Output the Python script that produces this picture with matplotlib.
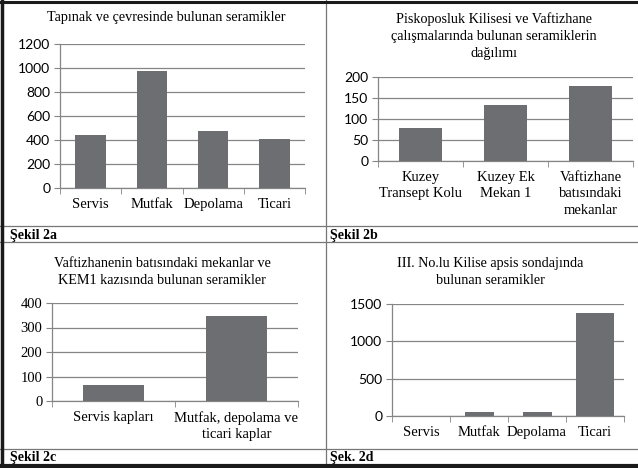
import matplotlib
matplotlib.use("Agg")
import matplotlib.pyplot as plt
from matplotlib.lines import Line2D

W, H = 638, 468

# ---- data ----
a_title = "Tapınak ve çevresinde bulunan seramikler"
a_cats = ["Servis", "Mutfak", "Depolama", "Ticari"]
a_vals = [440, 975, 475, 410]
a_ticks = [0, 200, 400, 600, 800, 1000, 1200]

b_title = "Piskoposluk Kilisesi ve Vaftizhane\nçalışmalarında bulunan seramiklerin\ndağılımı"
b_cats = ["Kuzey\nTransept Kolu", "Kuzey Ek\nMekan 1", "Vaftizhane\nbatısındaki\nmekanlar"]
b_vals = [78, 133, 179]
b_ticks = [0, 50, 100, 150, 200]

c_title = "Vaftizhanenin batısındaki mekanlar ve\nKEM1 kazısında bulunan seramikler"
c_cats = ["Servis kapları", "Mutfak, depolama ve\nticari kaplar"]
c_vals = [65, 346]
c_ticks = [0, 100, 200, 300, 400]

d_title = "III. No.lu Kilise apsis sondajında\nbulunan seramikler"
d_cats = ["Servis", "Mutfak", "Depolama", "Ticari"]
d_vals = [5, 50, 52, 1380]
d_ticks = [0, 500, 1000, 1500]

captions = ["Şekil 2a", "Şekil 2b", "Şekil 2c", "Şek. 2d"]

SERIF = "Liberation Serif"
SANS = "Lato"
BAR = "#6d6e71"
GRID = "#858585"

fig = plt.figure(figsize=(W / 100, H / 100), dpi=100)
fig.patch.set_facecolor("white")


def px_axes(x0, y0, x1, y1):
    return fig.add_axes([x0 / W, 1 - y1 / H, (x1 - x0) / W, (y1 - y0) / H])


def panel(box, cats, vals, ticks, ytick_font, widths=0.5, yfs=10):
    ax = px_axes(*box)
    x = list(range(len(cats)))
    ax.bar(x, vals, width=widths, color=BAR, zorder=3)
    ax.set_xlim(-0.5, len(cats) - 0.5)
    ax.set_ylim(ticks[0], ticks[-1])
    ax.set_yticks(ticks)
    ax.set_yticklabels([str(t) for t in ticks], fontfamily=ytick_font, fontsize=yfs)
    ax.yaxis.grid(True, color=GRID, linewidth=0.9, zorder=0)
    ax.set_axisbelow(True)
    for s in ["top", "right"]:
        ax.spines[s].set_visible(False)
    for s in ["left", "bottom"]:
        ax.spines[s].set_color(GRID)
        ax.spines[s].set_linewidth(0.9)
    ax.tick_params(axis="y", length=4, color=GRID, pad=3)
    ax.set_xticks(x)
    ax.set_xticklabels(cats, fontfamily=SERIF, fontsize=10.5, linespacing=1.35)
    ax.tick_params(axis="x", length=0, pad=7)
    ax.set_xticks([i - 0.5 for i in range(len(cats) + 1)], minor=True)
    ax.tick_params(axis="x", which="minor", length=4, color=GRID)
    return ax


panel((60, 44, 305, 188), a_cats, a_vals, a_ticks, SANS)
panel((378, 77, 633, 161), b_cats, b_vals, b_ticks, SANS)
panel((52, 303, 298, 401), c_cats, c_vals, c_ticks, SERIF, yfs=10.5)
panel((392, 304, 624, 416), d_cats, d_vals, d_ticks, SANS, widths=[0.5, 0.5, 0.5, 0.66])


def ftext(x, y, s, **kw):
    fig.text(x / W, 1 - y / H, s, **kw)


TFS = 10.2
ftext(166, 18, a_title, ha="center", va="center", fontfamily=SERIF, fontsize=TFS)
ftext(494, 36, b_title, ha="center", va="center", fontfamily=SERIF, fontsize=TFS, linespacing=1.38)
ftext(162, 272, c_title, ha="center", va="center", fontfamily=SERIF, fontsize=TFS, linespacing=1.42)
ftext(490, 272, d_title, ha="center", va="center", fontfamily=SERIF, fontsize=TFS, linespacing=1.38)

cap_pos = [(10, 236), (330, 236), (10, 457), (330, 457)]
for (cx, cy), cap in zip(cap_pos, captions):
    ftext(cx, cy, cap, ha="left", va="center", fontfamily=SERIF, fontsize=10, fontweight="bold")


def hline(y, x0, x1, color="#777777", lw=0.9):
    fig.add_artist(Line2D([x0 / W, x1 / W], [1 - y / H, 1 - y / H], color=color, linewidth=lw))


def vline(x, y0, y1, color="#777777", lw=0.9):
    fig.add_artist(Line2D([x / W, x / W], [1 - y0 / H, 1 - y1 / H], color=color, linewidth=lw))


hline(226, 0, W)
hline(242, 0, W)
hline(449, 0, W)
vline(326, 0, 465)
# thick outer frame
hline(2, 0, W, color="#1a1a1a", lw=2.2)
hline(466, 0, W, color="#1a1a1a", lw=3.0)
vline(1.5, 0, H, color="#1a1a1a", lw=2.5)

fig.savefig("out.png", dpi=100, facecolor="white")
